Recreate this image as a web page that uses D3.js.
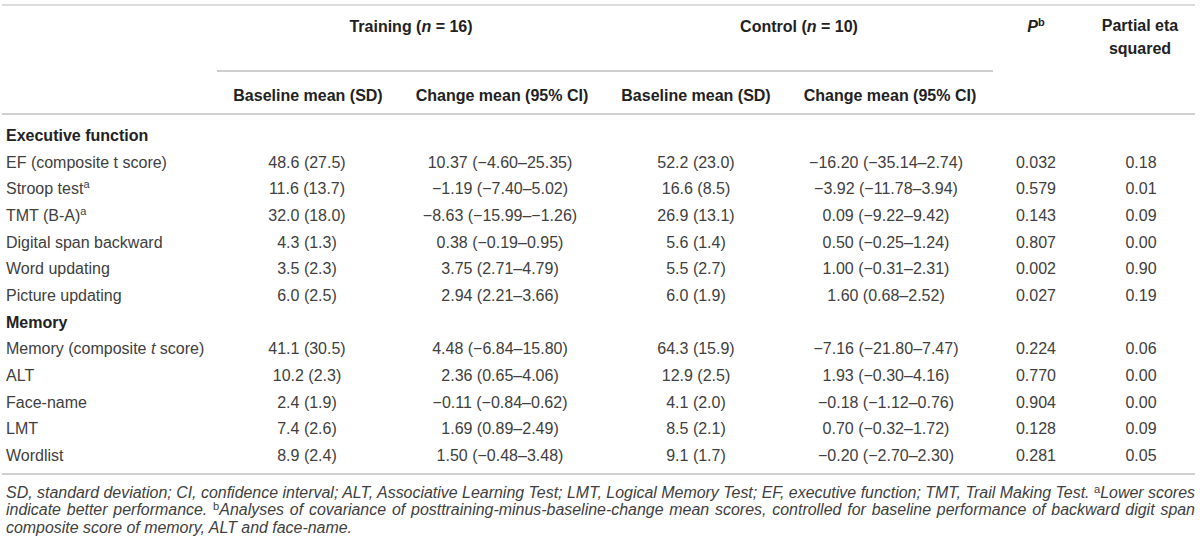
<!DOCTYPE html>
<html>
<head>
<meta charset="utf-8">
<script src="https://cdn.jsdelivr.net/npm/d3@7"></script>
<style>
  body { margin: 0; background: #fff; }
  svg { display: block; font-family: "Liberation Sans", Arial, sans-serif; }
</style>
</head>
<body>
<svg id="chart" width="1200" height="548"></svg>
<script>
// ---- table data ----
var sections = ["Executive function", "Memory"];
var rowLabels = ["EF (composite t score)", "Stroop test", "TMT (B-A)", "Digital span backward",
  "Word updating", "Picture updating", "Memory (composite t score)", "ALT", "Face-name", "LMT", "Wordlist"];
var rowSection = [0, 0, 0, 0, 0, 0, 1, 1, 1, 1, 1];
var rowSup = ["", "a", "a", "", "", "", "", "", "", "", ""];

var trainBaseMean = [48.6, 11.6, 32.0, 4.3, 3.5, 6.0, 41.1, 10.2, 2.4, 7.4, 8.9];
var trainBaseSD   = [27.5, 13.7, 18.0, 1.3, 2.3, 2.5, 30.5, 2.3, 1.9, 2.6, 2.4];
var trainChange   = [10.37, -1.19, -8.63, 0.38, 3.75, 2.94, 4.48, 2.36, -0.11, 1.69, 1.50];
var trainLo       = [-4.60, -7.40, -15.99, -0.19, 2.71, 2.21, -6.84, 0.65, -0.84, 0.89, -0.48];
var trainHi       = [25.35, 5.02, -1.26, 0.95, 4.79, 3.66, 15.80, 4.06, 0.62, 2.49, 3.48];

var ctrlBaseMean  = [52.2, 16.6, 26.9, 5.6, 5.5, 6.0, 64.3, 12.9, 4.1, 8.5, 9.1];
var ctrlBaseSD    = [23.0, 8.5, 13.1, 1.4, 2.7, 1.9, 15.9, 2.5, 2.0, 2.1, 1.7];
var ctrlChange    = [-16.20, -3.92, 0.09, 0.50, 1.00, 1.60, -7.16, 1.93, -0.18, 0.70, -0.20];
var ctrlLo        = [-35.14, -11.78, -9.22, -0.25, -0.31, 0.68, -21.80, -0.30, -1.12, -0.32, -2.70];
var ctrlHi        = [2.74, 3.94, 9.42, 1.24, 2.31, 2.52, 7.47, 4.16, 0.76, 1.72, 2.30];

var pValues = [0.032, 0.579, 0.143, 0.807, 0.002, 0.027, 0.224, 0.770, 0.904, 0.128, 0.281];
var etaSq   = [0.18, 0.01, 0.09, 0.00, 0.90, 0.19, 0.06, 0.00, 0.00, 0.09, 0.05];

var columns = ["trainBase", "trainChange", "ctrlBase", "ctrlChange", "p", "eta"];
var subHeaders = ["Baseline mean (SD)", "Change mean (95% CI)", "Baseline mean (SD)", "Change mean (95% CI)"];

var footnotes = [
  [{t: "SD, standard deviation; CI, confidence interval; ALT, Associative Learning Test; LMT, Logical Memory Test; EF, executive function; TMT, Trail Making Test. "}, {t: "a", sup: true}, {t: "Lower scores"}],
  [{t: "indicate better performance. "}, {t: "b", sup: true}, {t: "Analyses of covariance of posttraining-minus-baseline-change mean scores, controlled for baseline performance of backward digit span"}],
  [{t: "composite score of memory, ALT and face-name."}]
];

// ---- layout ----
var svg = d3.select("#chart");
var W = 1200;
var f1 = d3.format(".1f"), f2 = d3.format(".2f"), f3 = d3.format(".3f");

var x = d3.scaleOrdinal().domain(columns).range([307, 500, 696, 886, 1036, 1141]);

// build display lines: section header followed by its rows
var lines = [];
sections.forEach(function(s, si) {
  lines.push({type: "section", label: s});
  rowLabels.forEach(function(r, i) {
    if (rowSection[i] === si) lines.push({type: "row", i: i});
  });
});
var y = d3.scaleLinear().domain([0, lines.length - 1]).range([135.5, 455.5]);

// rules
function rule(x1, x2, yy, col, w) {
  svg.append("line").attr("x1", x1).attr("x2", x2).attr("y1", yy).attr("y2", yy)
    .attr("stroke", col).attr("stroke-width", w);
}
rule(2, W - 5, 5, "#dcdcdc", 2);
rule(217, 993, 71, "#bdbdbd", 1.5);
rule(2, W - 5, 114, "#d0d0d0", 2);
rule(2, W - 5, 474, "#d0d0d0", 2);

// group headers
var hdr = svg.append("g").attr("font-weight", "bold").attr("font-size", 16).attr("fill", "#222")
  .attr("text-anchor", "middle");

[{label: "Training (", n: "16", cx: 411}, {label: "Control (", n: "10", cx: 799}].forEach(function(g) {
  var t = hdr.append("text").attr("x", g.cx).attr("y", 32);
  t.append("tspan").text(g.label);
  t.append("tspan").attr("font-style", "italic").text("n");
  t.append("tspan").text(" = " + g.n + ")");
});

var pH = hdr.append("text").attr("x", x("p")).attr("y", 32);
pH.append("tspan").attr("font-style", "italic").text("P");
pH.append("tspan").attr("font-size", 11).attr("dy", -6).text("b");

hdr.append("text").attr("x", 1140).attr("y", 31).text("Partial eta");
hdr.append("text").attr("x", 1140).attr("y", 54).text("squared");

hdr.selectAll("text.sub").data(subHeaders).enter().append("text")
  .attr("class", "sub")
  .attr("x", function(d, i) { return [308, 502, 696, 890][i]; })
  .attr("y", 101)
  .text(function(d) { return d; });

// body
var body = svg.append("g").attr("font-size", 16).attr("fill", "#404040");

lines.forEach(function(l, k) {
  var yy = y(k);
  if (l.type === "section") {
    body.append("text").attr("x", 6).attr("y", yy).attr("dy", "0.35em")
      .attr("font-weight", "bold").attr("fill", "#222").text(l.label);
    return;
  }
  var i = l.i;
  var lab = body.append("text").attr("x", 6).attr("y", yy).attr("dy", "0.35em");
  var label = rowLabels[i];
  if (label.indexOf(" t ") > 0 && rowSection[i] === 1) {
    var parts = label.split(" t ");
    lab.append("tspan").text(parts[0] + " ");
    lab.append("tspan").attr("font-style", "italic").text("t");
    lab.append("tspan").text(" " + parts[1]);
  } else {
    lab.append("tspan").text(label);
  }
  if (rowSup[i]) lab.append("tspan").attr("font-size", 11).attr("dy", -6).text(rowSup[i]);

  var cells = {
    trainBase: f1(trainBaseMean[i]) + " (" + f1(trainBaseSD[i]) + ")",
    trainChange: f2(trainChange[i]) + " (" + f2(trainLo[i]) + "\u2013" + f2(trainHi[i]) + ")",
    ctrlBase: f1(ctrlBaseMean[i]) + " (" + f1(ctrlBaseSD[i]) + ")",
    ctrlChange: f2(ctrlChange[i]) + " (" + f2(ctrlLo[i]) + "\u2013" + f2(ctrlHi[i]) + ")",
    p: f3(pValues[i]),
    eta: f2(etaSq[i])
  };
  columns.forEach(function(c) {
    body.append("text").attr("x", x(c)).attr("y", yy).attr("dy", "0.35em")
      .attr("text-anchor", "middle").text(cells[c]);
  });
});

// footnotes
var fnSize = 14, fnWidth = 1189;
var fn = svg.append("g").attr("font-size", fnSize).attr("font-style", "italic").attr("fill", "#404040");
var fnTexts = [];
footnotes.forEach(function(parts, k) {
  var t = fn.append("text").attr("x", 6).attr("y", 492 + k * 17.5).attr("dy", "0.35em");
  parts.forEach(function(p, j) {
    var s = t.append("tspan").text(p.t);
    if (p.sup) s.attr("font-size", "0.7em").attr("font-style", "normal").attr("dy", -5);
    else if (j > 0) s.attr("dy", 5);
  });
  fnTexts.push(t);
});
// fit the first line to the full width, then justify line two with word spacing
var len1 = fnTexts[0].node().getComputedTextLength();
fnSize = fnSize * fnWidth / len1;
fn.attr("font-size", fnSize);
[0, 1].forEach(function(k) {
  var node = fnTexts[k].node();
  var len = node.getComputedTextLength();
  var spaces = (node.textContent.match(/ /g) || []).length;
  if (spaces && len < fnWidth) fnTexts[k].attr("word-spacing", (fnWidth - len) / spaces);
});
</script>
</body>
</html>
